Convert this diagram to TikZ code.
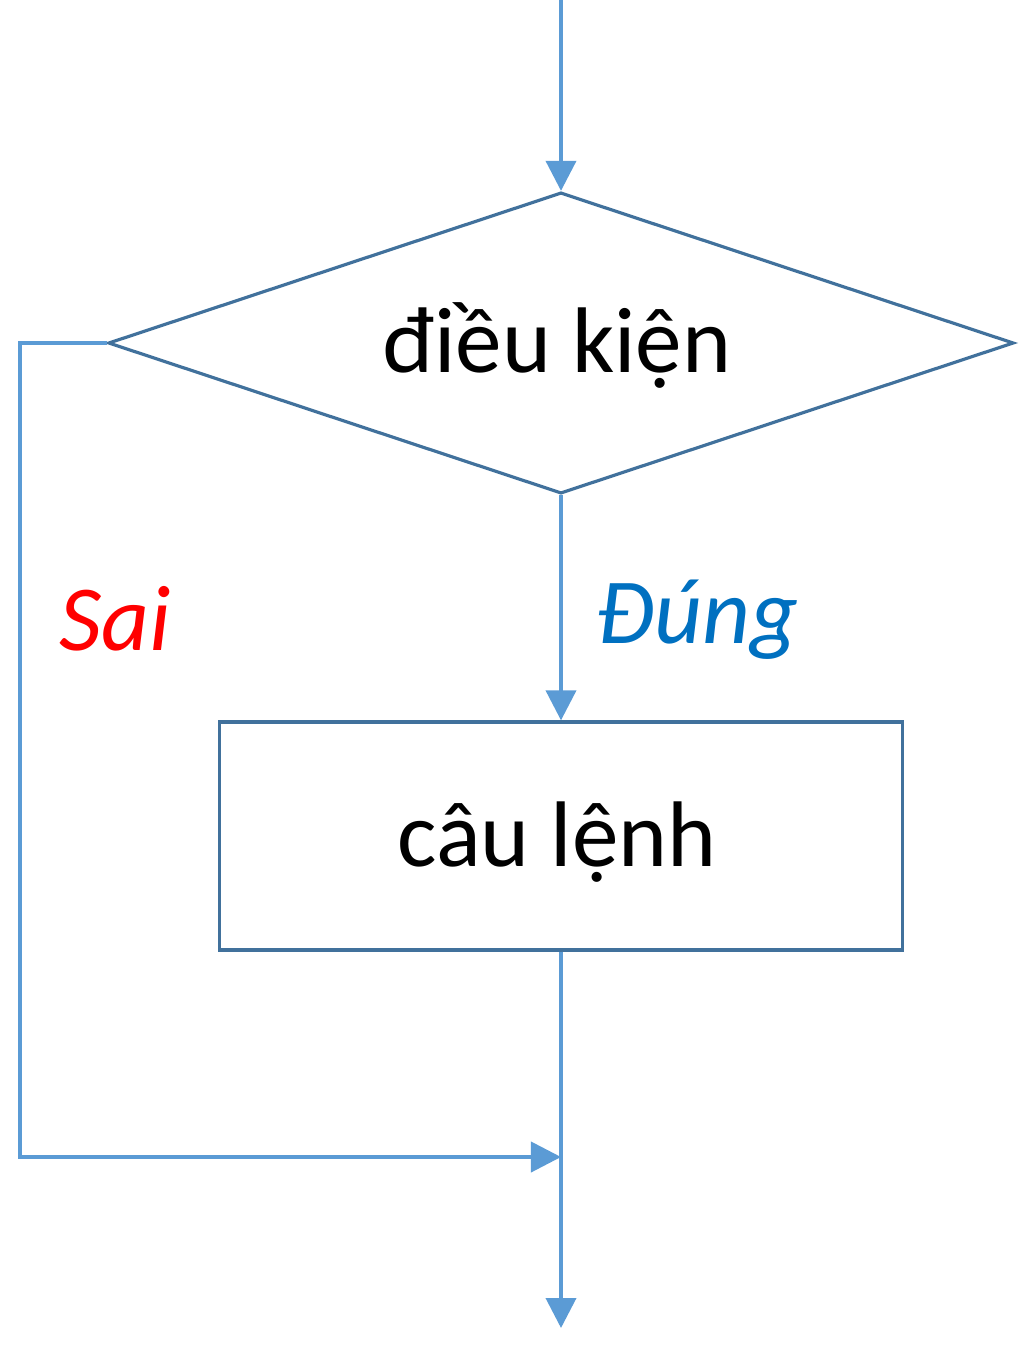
\documentclass[tikz,border=0pt]{standalone}
\usepackage{fontspec}
\setmainfont{Carlito}
\usetikzlibrary{arrows.meta,shapes.geometric}
\definecolor{duong}{HTML}{5B9BD5}
\definecolor{vien}{HTML}{41719C}
\definecolor{xanh}{HTML}{0070C0}
\tikzset{
>={Triangle[length=0.3cm,width=0.3cm]},
khoi/.style={draw=vien,line width=0.9pt,inner sep=0pt,font=\fontsize{26.5}{30}\selectfont},
dieukien/.style={khoi,diamond,aspect=3,minimum width=9.05cm,minimum height=3.01cm},
lenh/.style={khoi,rectangle,minimum width=6.82cm,minimum height=2.28cm},
nhan/.style={font=\fontsize{26.5}{30}\selectfont\itshape},
mui/.style={->,draw=duong,line width=1.1pt}}

\begin{document}
\begin{tikzpicture}[x=0.01cm,y=-0.01cm]
\useasboundingbox (0,0) rectangle (1024,1363);

\coordinate (vao) at (561,0);
\node[dieukien] (dk) at (561,343) {};
\node[font=\fontsize{26.5}{30}\selectfont] (dkchu) at (557,345) {điều kiện};
\node[lenh] (cl) at (561,836) {};
\node[font=\fontsize{26.5}{30}\selectfont] (clchu) at (557,842) {câu lệnh};
\coordinate (goc) at (20,343);
\coordinate (noi) at (561,1157);
\coordinate (ra) at (561,1328);

\draw[mui] (vao) -- (dk.north);
\draw[mui] (dk.south) -- (cl.north);
\draw[mui] (cl.south) -- (ra);
\draw[mui] (dk.west) -- (goc) |- (noi);

\node[nhan,text=red] (sai) at (115,619) {Sai};
\node[nhan,text=xanh] (dung) at (697,620) {Đúng};

\end{tikzpicture}
\end{document}
